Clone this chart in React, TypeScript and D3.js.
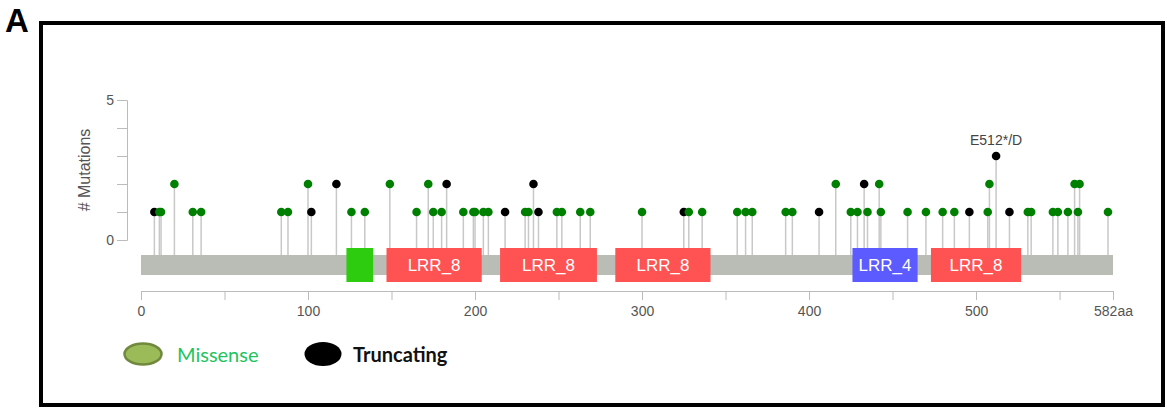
import { useEffect, useRef } from "react";
import * as d3 from "d3";

// positions (aa) and counts
const missense: [number, number][] = [
  [11, 1], [12, 1], [20, 2], [31, 1], [36, 1], [84, 1], [88, 1], [100, 2],
  [126, 1], [134, 1], [149, 2], [165, 1], [172, 2], [175, 1], [180, 1],
  [193, 1], [199, 1], [200, 1], [205, 1], [208, 1], [230, 1], [232, 1],
  [249, 1], [252, 1], [263, 1], [269, 1], [300, 1], [328, 1], [336, 1],
  [357, 1], [362, 1], [366, 1], [386, 1], [390, 1], [416, 2], [425, 1],
  [429, 1], [435, 1], [442, 2], [443, 1], [459, 1], [470, 1], [480, 1],
  [487, 1], [507, 1], [508, 2], [531, 1], [533, 1], [546, 1], [549, 1],
  [555, 1], [559, 2], [561, 1], [562, 2], [579, 1],
];

const truncating: [number, number][] = [
  [8, 1], [102, 1], [117, 2], [183, 2], [218, 1], [235, 2], [238, 1],
  [325, 1], [406, 1], [433, 2], [496, 1], [512, 3], [520, 1],
];

const domains = [
  { name: "", start: 123, end: 139, color: "#2ecc0f" },
  { name: "LRR_8", start: 147, end: 204, color: "#ff5353" },
  { name: "LRR_8", start: 215, end: 273, color: "#ff5353" },
  { name: "LRR_8", start: 284, end: 341, color: "#ff5353" },
  { name: "LRR_4", start: 426, end: 465, color: "#5b5bff" },
  { name: "LRR_8", start: 473, end: 527, color: "#ff5353" },
];

const proteinLength = 582;
const xTicks = [0, 50, 100, 150, 200, 250, 300, 350, 400, 450, 500, 550, 582];
const xLabels = [0, 100, 200, 300, 400, 500, 582];
const yTicks = [0, 1, 2, 3, 4, 5];
const annotation = { pos: 512, count: 3, text: "E512*/D" };

export default function App() {
  const svgRef = useRef<SVGSVGElement>(null);

  useEffect(() => {
    const svg = d3.select(svgRef.current);
    svg.selectAll("*").remove();

    const x = d3.scaleLinear().domain([0, proteinLength]).range([141, 1113]);
    const y = d3.scaleLinear().domain([0, 5]).range([240, 100]);

    const barTop = 255;
    const barH = 20;
    const font = "Arial, 'Liberation Sans', sans-serif";

    // frame + panel letter
    svg.append("rect")
      .attr("x", 41).attr("y", 23).attr("width", 1122).attr("height", 382)
      .attr("fill", "none").attr("stroke", "#000").attr("stroke-width", 4);
    svg.append("text")
      .attr("x", 5).attr("y", 32)
      .attr("font-family", font).attr("font-weight", "bold").attr("font-size", 33)
      .text("A");

    // y axis
    const yAxis = svg.append("g")
      .attr("transform", "translate(127,0)")
      .call(d3.axisLeft(y).tickValues(yTicks).tickSize(10)
        .tickFormat((d) => (d === 0 || d === 5 ? String(d) : "")));
    yAxis.select(".domain").attr("stroke", "#bbb");
    yAxis.selectAll(".tick line").attr("stroke", "#bbb");
    yAxis.selectAll(".tick text")
      .attr("fill", "#555").attr("font-size", 14).attr("font-family", font);

    svg.append("text")
      .attr("transform", "translate(90,170) rotate(-90)")
      .attr("text-anchor", "middle")
      .attr("font-family", font).attr("font-size", 16).attr("fill", "#555")
      .text("# Mutations");

    // stems
    const all = [
      ...truncating.map((d) => ({ pos: d[0], count: d[1], color: "#000" })),
      ...missense.map((d) => ({ pos: d[0], count: d[1], color: "#008000" })),
    ];
    svg.append("g").selectAll("line")
      .data(all).enter().append("line")
      .attr("x1", (d) => x(d.pos)).attr("x2", (d) => x(d.pos))
      .attr("y1", barTop).attr("y2", (d) => y(d.count))
      .attr("stroke", "#c8c8c8").attr("stroke-width", 1.5);

    // protein bar
    svg.append("rect")
      .attr("x", x(0)).attr("y", barTop)
      .attr("width", x(proteinLength) - x(0)).attr("height", barH)
      .attr("fill", "#babdb6");

    const dg = svg.append("g").selectAll("g")
      .data(domains).enter().append("g");
    dg.append("rect")
      .attr("x", (d) => x(d.start)).attr("y", barTop - 7)
      .attr("width", (d) => x(d.end) - x(d.start)).attr("height", barH + 14)
      .attr("fill", (d) => d.color);
    dg.append("text")
      .attr("x", (d) => (x(d.start) + x(d.end)) / 2).attr("y", barTop + 16)
      .attr("text-anchor", "middle")
      .attr("font-family", font).attr("font-size", 17).attr("fill", "#fff")
      .text((d) => d.name);

    // heads
    svg.append("g").selectAll("circle")
      .data(all).enter().append("circle")
      .attr("cx", (d) => x(d.pos)).attr("cy", (d) => y(d.count))
      .attr("r", 4.3).attr("fill", (d) => d.color);

    svg.append("text")
      .attr("x", x(annotation.pos)).attr("y", y(annotation.count) - 11)
      .attr("text-anchor", "middle")
      .attr("font-family", font).attr("font-size", 14).attr("fill", "#444")
      .text(annotation.text);

    // x axis
    const xAxis = svg.append("g")
      .attr("transform", "translate(0,291)")
      .call(d3.axisBottom(x).tickValues(xTicks).tickSize(9).tickSizeOuter(0)
        .tickFormat((d) => {
          const v = Number(d);
          if (v === proteinLength) return `${v}aa`;
          return xLabels.includes(v) ? String(v) : "";
        }));
    xAxis.select(".domain").attr("stroke", "#bbb");
    xAxis.selectAll(".tick line").attr("stroke", "#bbb");
    xAxis.selectAll(".tick text")
      .attr("fill", "#555").attr("font-size", 14).attr("font-family", font)
      .attr("dy", "0.95em");

    // legend
    const lf = "Lato, 'Open Sans', sans-serif";
    svg.append("ellipse")
      .attr("cx", 143).attr("cy", 354).attr("rx", 18.5).attr("ry", 10.5)
      .attr("fill", "#9bbb59").attr("stroke", "#71893f").attr("stroke-width", 2.5);
    svg.append("text")
      .attr("x", 177).attr("y", 362)
      .attr("font-family", lf).attr("font-size", 20).attr("fill", "#22c35e")
      .text("Missense");
    svg.append("ellipse")
      .attr("cx", 323).attr("cy", 354).attr("rx", 18.5).attr("ry", 12)
      .attr("fill", "#000");
    svg.append("text")
      .attr("x", 353).attr("y", 362)
      .attr("font-family", lf).attr("font-size", 20).attr("font-weight", "bold")
      .attr("fill", "#111")
      .text("Truncating");
  }, []);

  return (
    <div style={{ position: "absolute", left: 0, top: 0 }}>
      <svg ref={svgRef} width={1167} height={408} style={{ display: "block", background: "#fff" }} />
    </div>
  );
}
